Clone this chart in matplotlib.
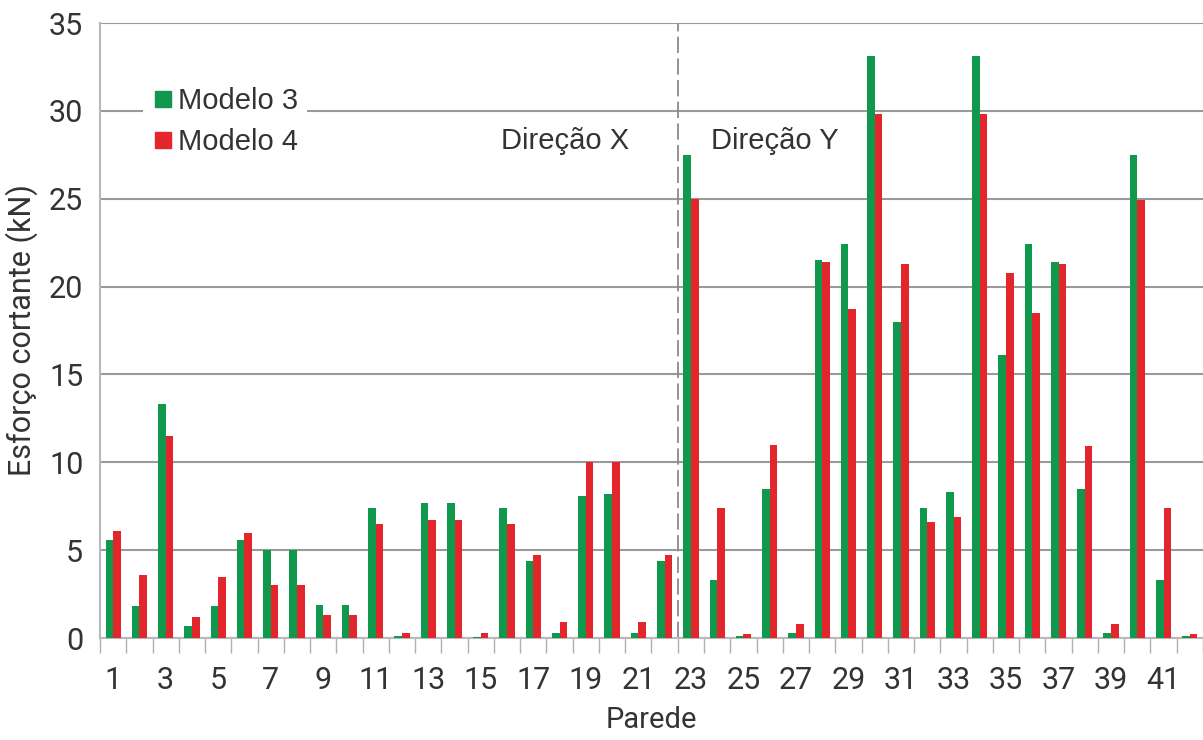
import numpy as np
import matplotlib
matplotlib.use("Agg")
import matplotlib.pyplot as plt
from matplotlib.lines import Line2D

paredes = list(range(1, 43))
modelo3 = [5.6, 1.8, 13.3, 0.7, 1.8, 5.6, 5.0, 5.0, 1.9, 1.9,
           7.4, 0.1, 7.7, 7.7, 0.05, 7.4, 4.4, 0.3, 8.1, 8.2,
           0.3, 4.4, 27.5, 3.3, 0.1, 8.5, 0.3, 21.5, 22.4, 33.1,
           18.0, 7.4, 8.3, 33.1, 16.1, 22.4, 21.4, 8.5, 0.3, 27.5,
           3.3, 0.1]
modelo4 = [6.1, 3.6, 11.5, 1.2, 3.5, 6.0, 3.0, 3.0, 1.3, 1.3,
           6.5, 0.3, 6.7, 6.7, 0.3, 6.5, 4.7, 0.9, 10.0, 10.0,
           0.9, 4.7, 25.0, 7.4, 0.25, 11.0, 0.8, 21.4, 18.7, 29.8,
           21.3, 6.6, 6.9, 29.8, 20.8, 18.5, 21.3, 10.9, 0.8, 24.9,
           7.4, 0.25]
xticks = list(range(1, 42, 2))

verde = '#10994c'
vermelho = '#e3262b'
cinza = '#9a9a9a'

tick_font = ['Roboto', 'DejaVu Sans']
text_font = ['Liberation Sans', 'DejaVu Sans']

fig = plt.figure(figsize=(12.03, 7.40), dpi=100)
ax = fig.add_axes([100 / 1203, 1 - 638 / 740, 1103 / 1203, 615 / 740])

x = np.array(paredes)
w = 0.29
ax.bar(x - w / 2, modelo3, width=w, color=verde, zorder=3)
ax.bar(x + w / 2, modelo4, width=w, color=vermelho, zorder=3)

ax.set_xlim(0.5, 42.39)
ax.set_ylim(0, 35)
ax.set_yticks(range(0, 36, 5))
ax.yaxis.grid(True, color=cinza, linewidth=1.5, zorder=0)
ax.set_axisbelow(True)

ax.set_xticks(xticks)
ax.set_xticks(np.arange(0.5, 42.6, 1), minor=True)
ax.tick_params(axis='x', which='major', length=0, pad=20)
ax.tick_params(axis='x', which='minor', length=11, width=1, color='#b0b0b0')
ax.tick_params(axis='y', length=0, pad=12)
for lab in ax.get_xticklabels() + ax.get_yticklabels():
    lab.set_family(tick_font)
    lab.set_fontsize(22)
    lab.set_color('#333333')

for s in ['top', 'right']:
    ax.spines[s].set_visible(False)
ax.spines['left'].set_color('#b8b8b8')
ax.spines['left'].set_linewidth(1.5)
ax.spines['bottom'].set_color('#b8b8b8')
ax.spines['bottom'].set_linewidth(1.5)

# separacao entre as direcoes
ax.axvline(22.5, color='#8a8a8a', linewidth=1.3, linestyle=(0, (9, 3)), zorder=2)
ax.text(18.2, 28.3, 'Direção X', fontsize=21, family=text_font, color='#333333',
        ha='center', va='center')
ax.text(26.2, 28.3, 'Direção Y', fontsize=21, family=text_font, color='#333333',
        ha='center', va='center')

ax.set_ylabel('Esforço cortante (kN)', fontsize=22, family=['Roboto', 'DejaVu Sans'],
              color='#333333', labelpad=8)
ax.set_xlabel('Parede', fontsize=21, family=['Roboto', 'DejaVu Sans'],
              color='#333333', labelpad=8)

handles = [Line2D([], [], marker='s', linestyle='none', markersize=11, color=verde),
           Line2D([], [], marker='s', linestyle='none', markersize=11, color=vermelho)]
leg = ax.legend(handles, ['Modelo 3', 'Modelo 4'], loc='upper left',
                bbox_to_anchor=(0.039, 0.91), frameon=True, framealpha=1,
                edgecolor='none', facecolor='white', fancybox=False,
                prop={'family': text_font, 'size': 21}, handletextpad=0.1,
                handlelength=0.8, labelspacing=0.45, borderpad=0.3,
                borderaxespad=0)
for t in leg.get_texts():
    t.set_color('#333333')
leg.set_zorder(5)

fig.savefig('out.png', dpi=100, facecolor='white')
